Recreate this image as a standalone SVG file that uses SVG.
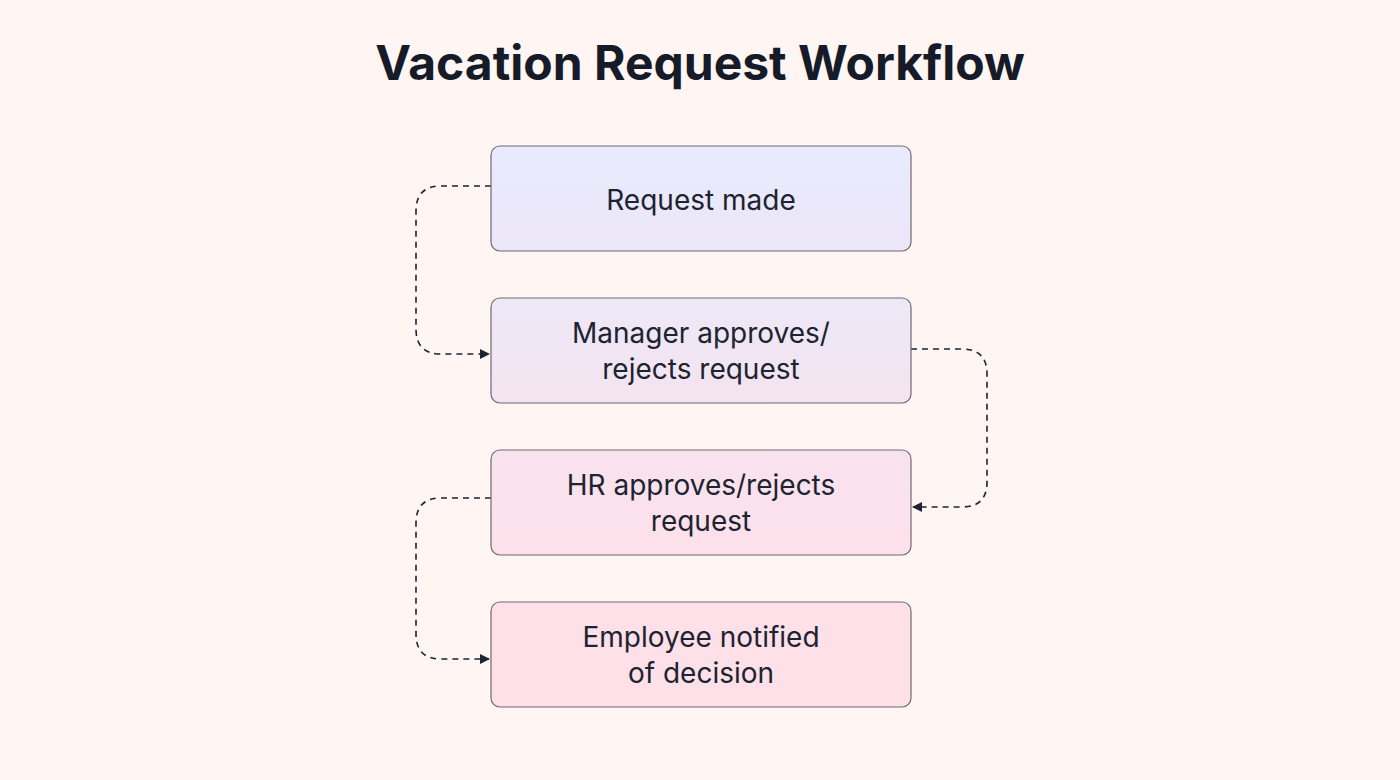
<svg xmlns="http://www.w3.org/2000/svg" width="1400" height="780" viewBox="0 0 1400 780">
<style>
.box{stroke:#6f6a70;stroke-width:1.2}
.lbl{font-family:Inter,"Liberation Sans",sans-serif;font-size:28px;fill:#1d2330;text-anchor:middle}
.title{font-family:Inter,"Liberation Sans",sans-serif;font-size:48px;font-weight:700;fill:#151b28;text-anchor:middle}
.con{fill:none;stroke:#1d2330;stroke-width:1.6;stroke-dasharray:6 5}
</style>
<defs>
<marker id="arr" markerWidth="10" markerHeight="10" refX="9" refY="5" orient="auto" markerUnits="userSpaceOnUse"><path d="M0,0 L10,5 L0,10 Z" fill="#1d2330"/></marker>
<linearGradient id="g1" x1="0" y1="0" x2="0" y2="1"><stop offset="0" stop-color="#e9ebfd"/><stop offset="1" stop-color="#ebe6f8"/></linearGradient>
<linearGradient id="g2" x1="0" y1="0" x2="0" y2="1"><stop offset="0" stop-color="#eee8f6"/><stop offset="1" stop-color="#f3e4f0"/></linearGradient>
<linearGradient id="g3" x1="0" y1="0" x2="0" y2="1"><stop offset="0" stop-color="#f8e2ef"/><stop offset="1" stop-color="#fde1ea"/></linearGradient>
<linearGradient id="g4" x1="0" y1="0" x2="0" y2="1"><stop offset="0" stop-color="#fde0e8"/><stop offset="1" stop-color="#fde0e8"/></linearGradient>
</defs>
<rect width="1400" height="780" fill="#fff5f3"/>
<text class="title" x="700" y="80">Vacation Request Workflow</text>
<g id="connectors">
<path class="con" d="M491,186 H441 Q416,186 416,211 V329 Q416,354 441,354 H489" marker-end="url(#arr)"/>
<path class="con" d="M911,349 H962 Q987,349 987,374 V482 Q987,507 962,507 H913" marker-end="url(#arr)"/>
<path class="con" d="M491,498 H441 Q416,498 416,523 V634 Q416,659 441,659 H489" marker-end="url(#arr)"/>
</g>
<g id="n1"><rect class="box" x="491" y="146" width="420" height="105" rx="9" fill="url(#g1)"/><text class="lbl" x="701" y="210">Request made</text></g>
<g id="n2"><rect class="box" x="491" y="298" width="420" height="105" rx="9" fill="url(#g2)"/><text class="lbl" x="701" y="343">Manager approves/</text><text class="lbl" x="701" y="379">rejects request</text></g>
<g id="n3"><rect class="box" x="491" y="450" width="420" height="105" rx="9" fill="url(#g3)"/><text class="lbl" x="701" y="495">HR approves/rejects</text><text class="lbl" x="701" y="531">request</text></g>
<g id="n4"><rect class="box" x="491" y="602" width="420" height="105" rx="9" fill="url(#g4)"/><text class="lbl" x="701" y="647">Employee notified</text><text class="lbl" x="701" y="683">of decision</text></g>
</svg>
